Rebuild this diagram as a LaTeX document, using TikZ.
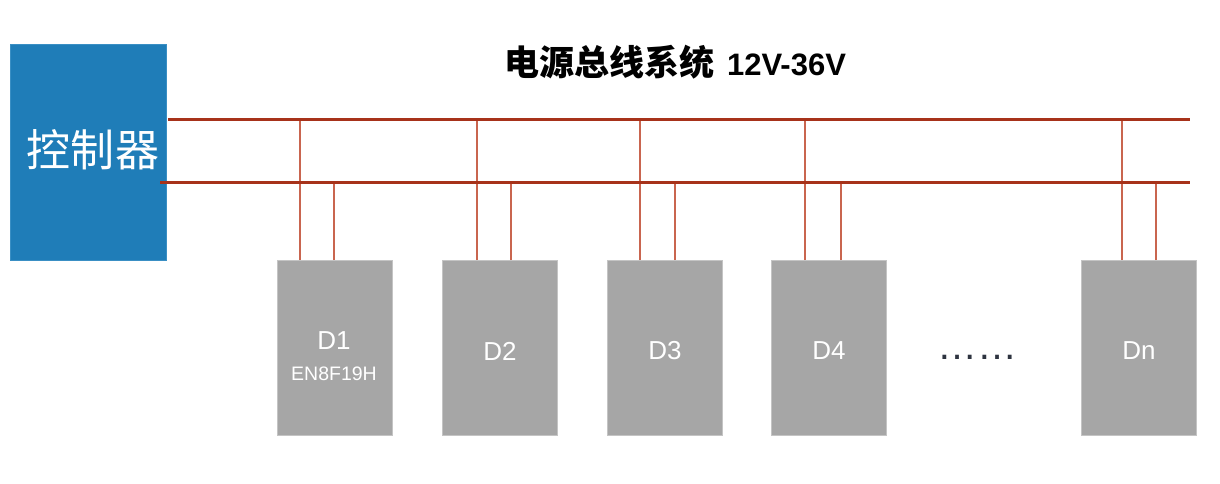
\documentclass[tikz,border=0pt]{standalone}
\usepackage{fontspec}
\setmainfont{Liberation Sans}
\newfontfamily\cjk{Noto Sans CJK SC}
\usetikzlibrary{calc}
\definecolor{ctrlblue}{HTML}{1F7DB8}
\definecolor{ctrledge}{HTML}{3A8FC4}
\definecolor{devgray}{HTML}{A6A6A6}
\definecolor{devedge}{HTML}{C4C4C4}
\definecolor{busred}{HTML}{A7321A}
\definecolor{dropred}{HTML}{C9654F}
\definecolor{dotcol}{HTML}{2E3440}
\tikzset{
  ctrlbox/.style={draw=ctrledge, line width=0.8pt, fill=ctrlblue, minimum width=156pt, minimum height=216pt, anchor=north west, inner sep=0pt, text=white},
  devbox/.style={draw=devedge, line width=0.8pt, fill=devgray, minimum width=115pt, minimum height=175pt, anchor=north west, inner sep=0pt, text=white, align=center},
  bus/.style={busred, line width=3pt},
  drop/.style={dropred, line width=1.3pt},
  devlabel/.style={font=\fontsize{26}{30}\selectfont},
}
\begin{document}
\begin{tikzpicture}[x=1pt,y=-1pt]
\useasboundingbox (0,0) rectangle (1220,484);
\fill[white] (0,0) rectangle (1220,484);
% controller
\node[ctrlbox] (ctrl) at (10,44) {};
\node[text=white, font=\cjk\fontsize{44}{48}\selectfont] (ctrltxt) at (93,150) {控制器};
% title
\node[font=\bfseries, anchor=center, inner sep=0pt] (title) at (675,62) {{\cjk\fontsize{35}{40}\selectfont 电源总线系统}\hspace{13pt}{\fontsize{31}{36}\selectfont 12V-36V}};
% bus coordinates
\coordinate (tbL) at (168,120);
\coordinate (tbR) at (1190,120);
\coordinate (bbL) at (160,182);
\coordinate (bbR) at (1190,182);
% devices
\node[devbox] (d1) at (277,260) {};
\node[devbox] (d2) at (442,260) {};
\node[devbox] (d3) at (607,260) {};
\node[devbox] (d4) at (771,260) {};
\node[devbox] (dn) at (1081,260) {};
% labels
\node[text=white, devlabel] (l1) at (334,341) {D1};
\node[text=white, font=\fontsize{19.5}{22}\selectfont] (l1b) at (334,374) {EN8F19H};
\node[text=white, devlabel] (l2) at (500,351) {D2};
\node[text=white, devlabel] (l3) at (665,351) {D3};
\node[text=white, devlabel] (l4) at (829,351) {D4};
\node[text=white, devlabel] (ln) at (1139,351) {Dn};
\node[text=dotcol, font=\fontsize{40}{44}\selectfont] (dots) at (977,357) {……};
% drops
\foreach \d/\a/\b in {d1/300/334, d2/477/511, d3/640/675, d4/805/841, dn/1122/1156}{
  \coordinate (\d a) at (\a,260);
  \coordinate (\d b) at (\b,260);
  \draw[drop] (\d a) -- (\d a |- tbL);
  \draw[drop] (\d b) -- (\d b |- bbL);
}
% buses
\draw[bus] (tbL) -- (tbR);
\draw[bus] (bbL) -- (bbR);
\end{tikzpicture}
\end{document}
